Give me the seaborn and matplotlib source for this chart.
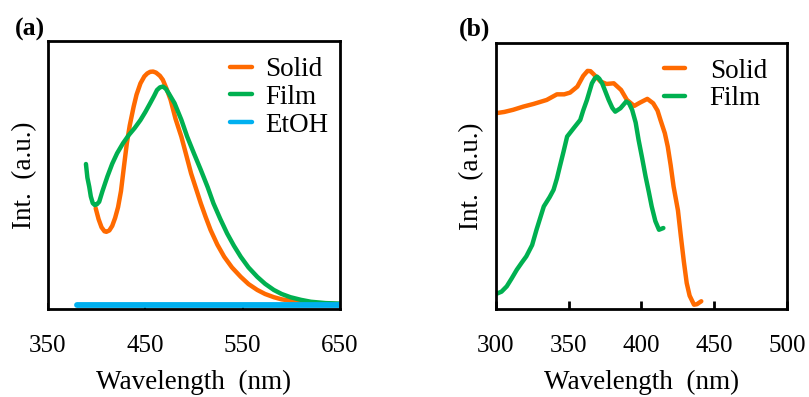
import matplotlib
matplotlib.use("Agg")
import matplotlib.pyplot as plt
import seaborn as sns
import pandas as pd

# (a) emission spectra, normalised intensity
solid_a_wl = [399, 402, 405, 408, 410, 413, 416, 419, 422, 425, 428, 431, 434, 438, 441, 445,
              449, 452, 455, 458, 461, 465, 468, 472, 476, 481, 487, 492, 497, 502, 507, 512,
              517, 524, 531, 539, 548, 556, 565, 573, 582, 590, 599, 610, 620, 635, 650]
solid_a_int = [0.376, 0.335, 0.305, 0.29, 0.288, 0.293, 0.31, 0.34, 0.38, 0.44, 0.53, 0.618,
               0.685, 0.755, 0.80, 0.842, 0.868, 0.879, 0.885, 0.886, 0.882, 0.87, 0.855, 0.82,
               0.78, 0.71, 0.643, 0.575, 0.506, 0.45, 0.394, 0.343, 0.295, 0.24, 0.195, 0.155,
               0.12, 0.093, 0.071, 0.056, 0.044, 0.036, 0.031, 0.026, 0.022, 0.02, 0.018]
film_a_wl = [389, 390.5, 392.4, 394, 396, 398, 400, 402.6, 406, 411, 416, 421, 427, 433, 439,
             445, 450, 455, 459, 462, 465, 468, 471, 474, 480, 487, 493, 500, 507, 514, 520,
             527, 534, 541, 548, 556, 565, 573, 582, 590, 599, 610, 620, 635, 650]
film_a_int = [0.541, 0.49, 0.456, 0.42, 0.395, 0.388, 0.39, 0.40, 0.44, 0.494, 0.542, 0.581,
              0.618, 0.649, 0.675, 0.705, 0.735, 0.768, 0.795, 0.817, 0.827, 0.83, 0.822,
              0.805, 0.768, 0.706, 0.643, 0.58, 0.519, 0.455, 0.394, 0.336, 0.282, 0.236,
              0.195, 0.155, 0.12, 0.094, 0.071, 0.056, 0.044, 0.034, 0.027, 0.022, 0.02]
etoh_a_wl = [380, 400, 450, 500, 550, 600, 650]
etoh_a_int = [0.015, 0.015, 0.015, 0.015, 0.015, 0.015, 0.015]

# (b) excitation spectra
solid_b_wl = [300, 306, 312, 319, 326, 335, 342, 347, 351, 356, 360, 363, 365, 367, 372, 376,
              381, 386, 390, 395, 399, 404, 408, 411, 413, 416, 418, 420, 422, 425, 427, 429,
              431, 433, 436, 438, 441]
solid_b_int = [0.735, 0.74, 0.748, 0.76, 0.77, 0.785, 0.806, 0.806, 0.8125, 0.835, 0.875, 0.894,
               0.893, 0.8825, 0.854, 0.845, 0.8475, 0.8225, 0.785, 0.7625, 0.775, 0.789, 0.7725,
               0.745, 0.71, 0.66, 0.61, 0.54, 0.46, 0.37, 0.2725, 0.18, 0.0975, 0.05, 0.016,
               0.018, 0.029]
film_b_wl = [300.7, 304, 307.6, 311, 314.5, 318, 321, 325, 328, 333, 337, 339.7, 342, 344,
             346.5, 349, 353.5, 358, 360, 362.6, 364.5, 366, 368, 369.5, 371, 373, 375, 377.5,
             380, 382, 385.6, 389.5, 391.5, 393.6, 396, 398, 400.5, 402.8, 405, 407, 409.5,
             412, 415]
film_b_int = [0.0575, 0.065, 0.085, 0.115, 0.1475, 0.175, 0.1975, 0.24, 0.2975, 0.385, 0.42,
              0.4475, 0.49, 0.535, 0.59, 0.6475, 0.679, 0.71, 0.745, 0.785, 0.82, 0.8475,
              0.866, 0.8725, 0.865, 0.8475, 0.82, 0.785, 0.755, 0.741, 0.754, 0.779, 0.772,
              0.7475, 0.70, 0.635, 0.565, 0.4975, 0.44, 0.385, 0.33, 0.2975, 0.304]

ticks_a = [350, 450, 550, 650]
ticks_b = [300, 350, 400, 450, 500]

ORANGE = "#FF6A00"
GREEN = "#00B050"
BLUE = "#00B0F0"

sns.set_style("white")
plt.rcParams['font.family'] = ['Liberation Serif', 'DejaVu Serif']
plt.rcParams['text.color'] = 'black'
plt.rcParams['axes.labelcolor'] = 'black'
plt.rcParams['xtick.color'] = 'black'

fig = plt.figure(figsize=(8.09, 3.97), dpi=100)
ax_a = fig.add_axes([0.0593, 0.2217, 0.361, 0.675])
ax_b = fig.add_axes([0.6127, 0.2217, 0.3605, 0.6708])


def draw(ax, series, xlim, ticks, tick_len, tick_w):
    for name, wl, inten, col, lw in series:
        df = pd.DataFrame({"wl": wl, "int": inten})
        sns.lineplot(data=df, x="wl", y="int", ax=ax, sort=False, color=col,
                     linewidth=lw, label=name, solid_capstyle="round",
                     solid_joinstyle="round")
    ax.set_xlim(*xlim)
    ax.set_ylim(0, 1)
    ax.set_xticks(ticks)
    ax.set_yticks([])
    ax.tick_params(axis="x", direction="in", length=tick_len, width=tick_w,
                   labelsize=18, pad=19, bottom=True, colors="black")
    for s in ax.spines.values():
        s.set_color("black")
        s.set_linewidth(2)
    ax.set_xlabel("Wavelength  (nm)", fontsize=19.5, labelpad=9, color="black")
    ax.set_ylabel("Int.  (a.u.)", fontsize=19.5, labelpad=8, color="black")


draw(ax_a, [("Solid", solid_a_wl, solid_a_int, ORANGE, 3.2),
            ("Film", film_a_wl, film_a_int, GREEN, 3.2),
            ("EtOH", etoh_a_wl, etoh_a_int, BLUE, 4.2)],
     (350, 650), ticks_a, 4, 1.2)
draw(ax_b, [("Solid", solid_b_wl, solid_b_int, ORANGE, 3.2),
            ("Film", film_b_wl, film_b_int, GREEN, 3.2)],
     (300, 500), ticks_b, 6, 2)

leg_a = ax_a.legend(loc="upper right", bbox_to_anchor=(0.96, 0.94), frameon=False,
                    fontsize=19.5, handlelength=0.8, handletextpad=0.5, labelspacing=0.1,
                    borderpad=0, borderaxespad=0)
leg_b = ax_b.legend(loc="upper right", bbox_to_anchor=(0.93, 0.94), frameon=False,
                    fontsize=19.5, handlelength=0.8, handletextpad=0.9, labelspacing=0.1,
                    borderpad=0, borderaxespad=0)
for leg in (leg_a, leg_b):
    for h in leg.get_lines():
        h.set_linewidth(3.2)

fig.text(0.018, 0.927, "(a)", fontsize=18.5, fontweight="bold", va="center", ha="left")
fig.text(0.567, 0.927, "(b)", fontsize=18.5, fontweight="bold", va="center", ha="left")

fig.savefig("out.png", dpi=100)
